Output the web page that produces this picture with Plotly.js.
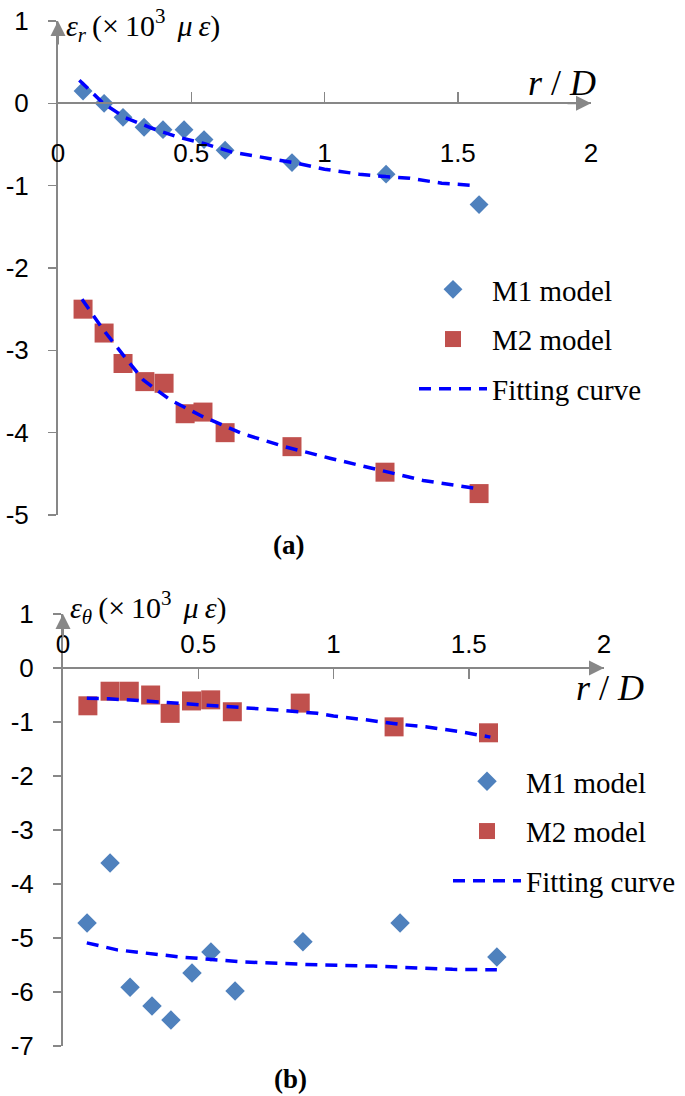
<!DOCTYPE html>
<html>
<head>
<meta charset="utf-8">
<script src="https://cdn.plot.ly/plotly-3.0.1.min.js"></script>
<style>html,body{margin:0;padding:0;background:#fff;}#chart{width:685px;height:1096px;}</style>
</head>
<body>
<div id="chart"></div>
<script>
// ---------- data (a) radial strain ----------
const xA_M1 = [0.094, 0.173, 0.244, 0.323, 0.394, 0.473, 0.548, 0.627, 0.878, 1.231, 1.58];
const yA_M1 = [0.15, 0.0, -0.17, -0.29, -0.32, -0.32, -0.44, -0.57, -0.72, -0.86, -1.23];
const xA_M2 = [0.094, 0.173, 0.244, 0.326, 0.398, 0.477, 0.544, 0.627, 0.878, 1.227, 1.58];
const yA_M2 = [-2.50, -2.79, -3.16, -3.38, -3.40, -3.77, -3.75, -4.00, -4.17, -4.48, -4.74];
const xA_fit1 = [0.08, 0.17, 0.25, 0.35, 0.45, 0.55, 0.65, 0.8, 0.9, 1.0, 1.13, 1.23, 1.32, 1.44, 1.57];
const yA_fit1 = [0.28, 0.0, -0.17, -0.30, -0.41, -0.49, -0.59, -0.67, -0.73, -0.80, -0.86, -0.89, -0.91, -0.97, -1.0];
const xA_fit2 = [0.09, 0.17, 0.25, 0.32, 0.42, 0.54, 0.69, 0.85, 1.02, 1.2, 1.37, 1.576];
const yA_fit2 = [-2.38, -2.75, -3.08, -3.36, -3.60, -3.80, -4.01, -4.17, -4.31, -4.45, -4.58, -4.68];

// ---------- data (b) hoop strain ----------
const xB_M1 = [0.089, 0.174, 0.248, 0.329, 0.399, 0.477, 0.547, 0.636, 0.887, 1.246, 1.604];
const yB_M1 = [-4.72, -3.61, -5.91, -6.26, -6.52, -5.65, -5.26, -5.98, -5.07, -4.72, -5.35];
const xB_M2 = [0.092, 0.174, 0.245, 0.324, 0.396, 0.475, 0.546, 0.626, 0.877, 1.224, 1.573];
const yB_M2 = [-0.70, -0.43, -0.43, -0.50, -0.84, -0.61, -0.59, -0.81, -0.65, -1.09, -1.20];
const xB_fit1 = [0.088, 0.2, 0.43, 0.654, 0.9, 1.147, 1.44, 1.604];
const yB_fit1 = [-5.09, -5.22, -5.35, -5.44, -5.49, -5.52, -5.58, -5.59];
const xB_fit2 = [0.088, 0.17, 0.3, 0.48, 0.65, 0.8, 0.94, 1.0, 1.12, 1.24, 1.34, 1.47, 1.58];
const yB_fit2 = [-0.56, -0.57, -0.61, -0.67, -0.72, -0.78, -0.84, -0.89, -0.96, -1.04, -1.09, -1.18, -1.28];

// ---------- tick labels ----------
const xTickVals = [0, 0.5, 1, 1.5, 2];
const xTickText = ['0', '0.5', '1', '1.5', '2'];
const yTickValsA = [1, 0, -1, -2, -3, -4, -5];
const yTickTextA = ['1', '0', '-1', '-2', '-3', '-4', '-5'];
const yTickValsB = [1, 0, -1, -2, -3, -4, -5, -6, -7];
const yTickTextB = ['1', '0', '-1', '-2', '-3', '-4', '-5', '-6', '-7'];

const names = ['M1 model', 'M2 model', 'Fitting curve'];

// ---------- style ----------
const W = 685, H = 1096;
const C1 = '#4F81BD', C2 = '#C0504D', CF = '#0000FF', AX = '#878787';
const serif = 'Liberation Serif, Times New Roman, serif';
const sans = 'Liberation Sans, Arial, sans-serif';
const fitLine = {color: CF, width: 3.5, dash: '12px,8px'};

const traces = [
  {x: xA_M1, y: yA_M1, xaxis: 'x', yaxis: 'y', mode: 'markers', name: names[0], legend: 'legend', legendgroup: 'a1',
   marker: {symbol: 'diamond', size: 14.5, color: C1, line: {width: 0}}, cliponaxis: false},
  {x: xA_M2, y: yA_M2, xaxis: 'x', yaxis: 'y', mode: 'markers', name: names[1], legend: 'legend', legendgroup: 'a2',
   marker: {symbol: 'square', size: 19, color: C2, line: {width: 0}}, cliponaxis: false},
  {x: xA_fit1, y: yA_fit1, xaxis: 'x', yaxis: 'y', mode: 'lines', name: names[2], legend: 'legend', legendgroup: 'a3',
   line: fitLine, cliponaxis: false},
  {x: xA_fit2, y: yA_fit2, xaxis: 'x', yaxis: 'y', mode: 'lines', name: names[2], legend: 'legend', legendgroup: 'a3',
   line: fitLine, showlegend: false, cliponaxis: false},

  {x: xB_M1, y: yB_M1, xaxis: 'x2', yaxis: 'y2', mode: 'markers', name: names[0], legend: 'legend2', legendgroup: 'b1',
   marker: {symbol: 'diamond', size: 15, color: C1, line: {width: 0}}, cliponaxis: false},
  {x: xB_M2, y: yB_M2, xaxis: 'x2', yaxis: 'y2', mode: 'markers', name: names[1], legend: 'legend2', legendgroup: 'b2',
   marker: {symbol: 'square', size: 19, color: C2, line: {width: 0}}, cliponaxis: false},
  {x: xB_fit1, y: yB_fit1, xaxis: 'x2', yaxis: 'y2', mode: 'lines', name: names[2], legend: 'legend2', legendgroup: 'b3',
   line: fitLine, cliponaxis: false},
  {x: xB_fit2, y: yB_fit2, xaxis: 'x2', yaxis: 'y2', mode: 'lines', name: names[2], legend: 'legend2', legendgroup: 'b3',
   line: fitLine, showlegend: false, cliponaxis: false}
];

// pixel geometry of the two panels
const A = {x0: 58, x1: 591, yTop: 21, yBot: 515, yZero: 103};
const B = {x0: 63, x1: 604, yTop: 614, yBot: 1046, yZero: 668};

const xCommon = {range: [0, 2], tickvals: xTickVals, ticktext: xTickText, showgrid: false, zeroline: false,
  showline: true, linecolor: AX, linewidth: 2, ticks: 'inside', ticklen: 10, tickwidth: 1.5, tickcolor: AX,
  tickfont: {family: sans, size: 26, color: '#000'}, fixedrange: true};
const yCommon = {showgrid: false, zeroline: false, showline: true, linecolor: AX, linewidth: 2,
  ticks: 'outside', ticklen: 8, tickwidth: 1.5, tickcolor: AX,
  tickfont: {family: sans, size: 26, color: '#000'}, fixedrange: true};

const legendCommon = {xanchor: 'left', yanchor: 'top', bgcolor: 'rgba(0,0,0,0)', traceorder: 'grouped',
  tracegroupgap: 9, itemwidth: 68, font: {family: serif, size: 29, color: '#000'}};

const TS = '\u2009';
const layout = {
  width: W, height: H, margin: {l: 0, r: 0, t: 0, b: 0}, paper_bgcolor: '#fff', plot_bgcolor: 'rgba(0,0,0,0)',
  showlegend: true,
  xaxis: Object.assign({}, xCommon, {domain: [A.x0 / W, A.x1 / W], anchor: 'free', position: 1 - A.yZero / H,
    side: 'bottom', ticklabelstandoff: 27}),
  yaxis: Object.assign({}, yCommon, {domain: [1 - A.yBot / H, 1 - A.yTop / H], range: [-5, 1], anchor: 'x',
    tickvals: yTickValsA, ticktext: yTickTextA, ticklabelstandoff: 14}),
  xaxis2: Object.assign({}, xCommon, {domain: [B.x0 / W, B.x1 / W], anchor: 'free', position: 1 - B.yZero / H,
    side: 'top', ticklabelstandoff: 4}),
  yaxis2: Object.assign({}, yCommon, {domain: [1 - B.yBot / H, 1 - B.yTop / H], range: [-7, 1], anchor: 'x2',
    tickvals: yTickValsB, ticktext: yTickTextB, ticklabelstandoff: 14}),
  legend: Object.assign({}, legendCommon, {x: 414 / W, y: 1 - 264 / H}),
  legend2: Object.assign({}, legendCommon, {x: 448 / W, y: 1 - 756 / H}),
  annotations: [
    // arrow heads
    {xref: 'x', yref: 'y', x: 2, y: 0, ax: -25, ay: 0, axref: 'pixel', ayref: 'pixel', text: '', showarrow: true,
     arrowhead: 2, arrowsize: 1.5, arrowwidth: 2, arrowcolor: AX},
    {xref: 'x', yref: 'y', x: 0, y: 1, ax: 0, ay: 25, axref: 'pixel', ayref: 'pixel', text: '', showarrow: true,
     arrowhead: 2, arrowsize: 1.5, arrowwidth: 2, arrowcolor: AX},
    {xref: 'x2', yref: 'y2', x: 2, y: 0, ax: -25, ay: 0, axref: 'pixel', ayref: 'pixel', text: '', showarrow: true,
     arrowhead: 2, arrowsize: 1.5, arrowwidth: 2, arrowcolor: AX},
    {xref: 'x2', yref: 'y2', x: 0, y: 1, ax: 0, ay: 25, axref: 'pixel', ayref: 'pixel', text: '', showarrow: true,
     arrowhead: 2, arrowsize: 1.5, arrowwidth: 2, arrowcolor: AX},
    // axis titles
    {xref: 'paper', yref: 'paper', x: 64 / W, y: 1 - 25 / H, xanchor: 'left', yanchor: 'middle', showarrow: false,
     text: '<i>ε</i><sub><i>r</i></sub>' + TS + '(×' + TS + '10<sup>3</sup>' + TS + TS + '<i>μ' + TS + 'ε</i>)',
     font: {family: serif, size: 30, color: '#000'}},
    {xref: 'paper', yref: 'paper', x: 562 / W, y: 1 - 83 / H, xanchor: 'center', yanchor: 'middle', showarrow: false,
     text: '<i>r</i> / <i>D</i>', font: {family: serif, size: 36, color: '#000'}},
    {xref: 'paper', yref: 'paper', x: 68 / W, y: 1 - 607 / H, xanchor: 'left', yanchor: 'middle', showarrow: false,
     text: '<i>ε</i><sub><i>θ</i></sub>' + TS + '(×' + TS + '10<sup>3</sup>' + TS + TS + '<i>μ' + TS + 'ε</i>)',
     font: {family: serif, size: 30, color: '#000'}},
    {xref: 'paper', yref: 'paper', x: 610 / W, y: 1 - 688 / H, xanchor: 'center', yanchor: 'middle', showarrow: false,
     text: '<i>r</i> / <i>D</i>', font: {family: serif, size: 36, color: '#000'}},
    // panel labels
    {xref: 'paper', yref: 'paper', x: 288 / W, y: 1 - 545 / H, xanchor: 'center', yanchor: 'middle', showarrow: false,
     text: '<b>(a)</b>', font: {family: serif, size: 27, color: '#000'}},
    {xref: 'paper', yref: 'paper', x: 290 / W, y: 1 - 1079 / H, xanchor: 'center', yanchor: 'middle', showarrow: false,
     text: '<b>(b)</b>', font: {family: serif, size: 27, color: '#000'}}
  ]
};

Plotly.newPlot('chart', traces, layout, {displayModeBar: false, staticPlot: true});
</script>
</body>
</html>
